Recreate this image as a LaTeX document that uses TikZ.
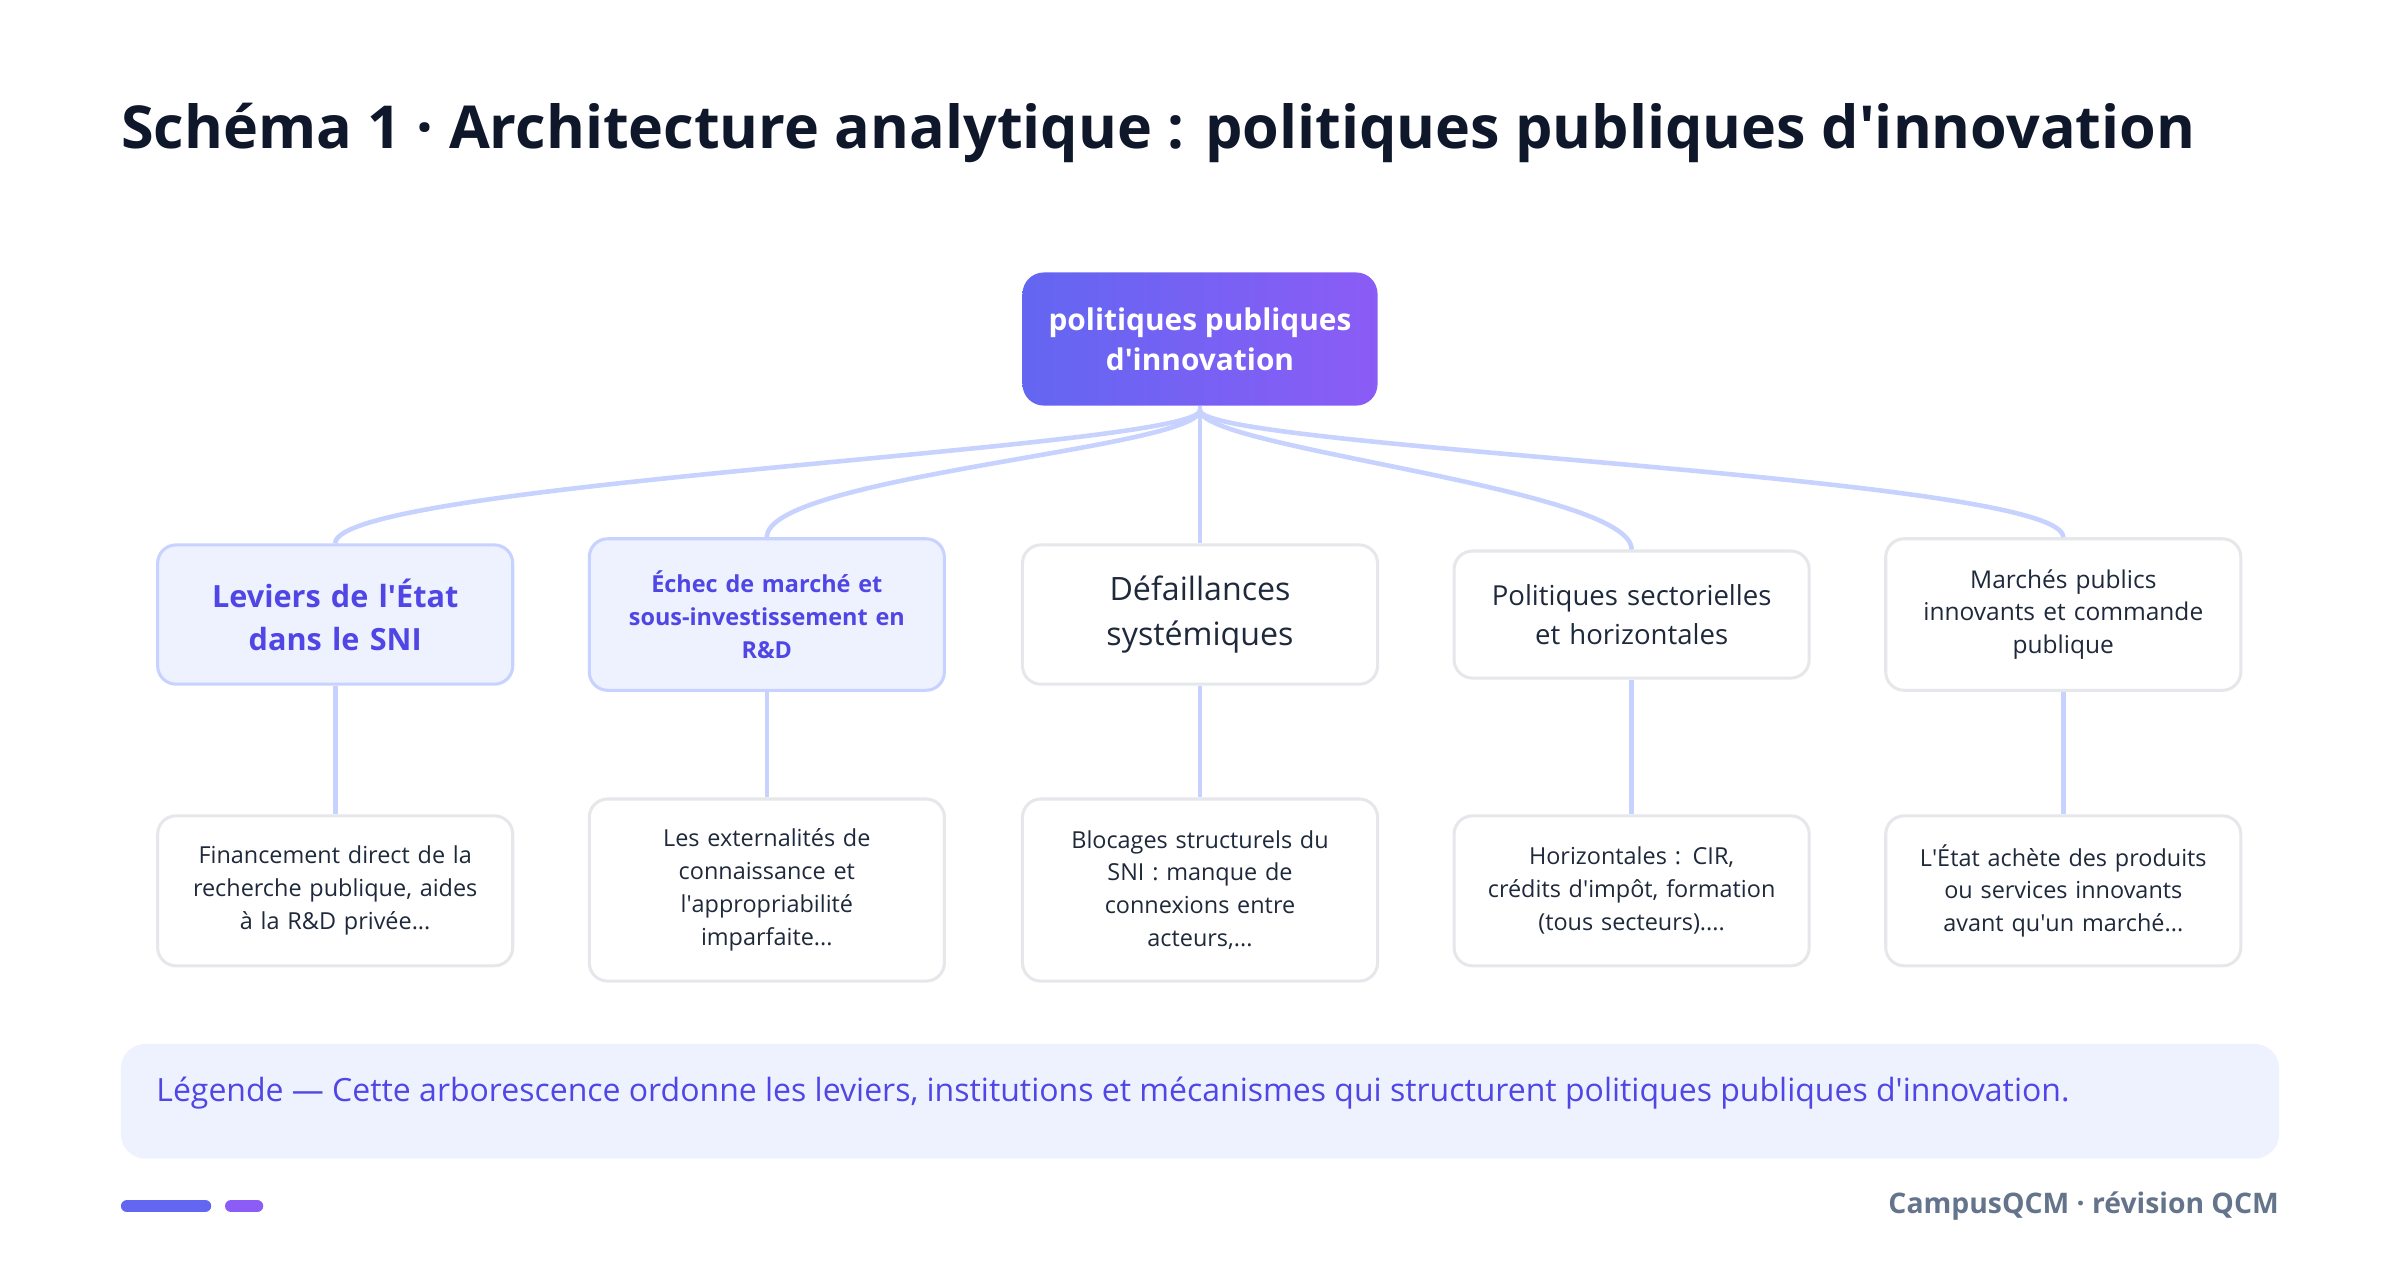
\documentclass[tikz,border=0pt]{standalone}
\usepackage{fontspec}
\setmainfont{Open Sans}
\newcommand\ap{\textquotesingle}
\usetikzlibrary{shadings,calc}
\definecolor{ind}{HTML}{6366F1}
\definecolor{pur}{HTML}{8B5CF6}
\definecolor{indt}{HTML}{4F46E5}
\definecolor{lfill}{HTML}{EEF2FF}
\definecolor{lbord}{HTML}{C7D2FE}
\definecolor{gbord}{HTML}{E5E7EB}
\definecolor{dark}{HTML}{0F172A}
\definecolor{txt}{HTML}{1E293B}
\definecolor{foot}{HTML}{64748B}
\tikzset{
 box/.style={draw=gbord,line width=2pt,rounded corners=12pt,fill=white,minimum width=232pt,align=center,text=txt},
 hl/.style={box,draw=lbord,fill=lfill,text=indt},
 lvlone/.style={font=\fontsize{20}{27}\selectfont,text width=215pt},
 lvltwo/.style={font=\fontsize{15.3}{21.5}\selectfont,text width=210pt},
 conn/.style={draw=lbord,line width=3pt},
}
\begin{document}
\begin{tikzpicture}[x=1pt,y=-1pt]
\useasboundingbox (0,0) rectangle (1568,828.5);
\node[anchor=base west,text=dark,font=\fontsize{38.7}{44}\selectfont\bfseries,inner sep=0] (title) at (79,97) {Schéma 1 · Architecture analytique : politiques publiques d\ap innovation};
% root
\node[rounded corners=14pt,left color=ind,right color=pur,minimum width=232pt,minimum height=87pt,text=white,align=center,font=\fontsize{19.5}{26}\selectfont\bfseries] (root) at (784,221.5) {politiques publiques\\d\ap innovation};
% level 1
\node[hl,lvlone,minimum height=91pt,font=\fontsize{20}{28}\selectfont\bfseries] (a1) at (219,401.5) {Leviers de l\ap État\\dans le SNI};
\node[hl,minimum height=99pt,text width=215pt,font=\fontsize{15.3}{21.5}\selectfont\bfseries] (b1) at (501,401.5) {Échec de marché et\\sous-investissement en\\R\&D};
\node[box,lvlone,minimum height=91pt,font=\fontsize{21}{29}\selectfont] (c1) at (784,401.5) {Défaillances\\systémiques};
\node[box,lvlone,minimum height=83pt,font=\fontsize{18}{25}\selectfont] (d1) at (1066,401.5) {Politiques sectorielles\\et horizontales};
\node[box,lvltwo,minimum height=99pt,font=\fontsize{16}{21.5}\selectfont] (e1) at (1348,401.5) {Marchés publics\\innovants et commande\\publique};
% level 2
\node[box,lvltwo,minimum height=98pt] (a2) at (219,582) {Financement direct de la\\recherche publique, aides\\à la R\&D privée...};
\node[box,lvltwo,minimum height=119pt] (b2) at (501,581.5) {Les externalités de\\connaissance et\\l\ap appropriabilité\\imparfaite...};
\node[box,lvltwo,minimum height=119pt] (c2) at (784,581.5) {Blocages structurels du\\SNI : manque de\\connexions entre\\acteurs,...};
\node[box,lvltwo,minimum height=98pt] (d2) at (1066,582) {Horizontales : CIR,\\crédits d\ap impôt, formation\\(tous secteurs)....};
\node[box,lvltwo,minimum height=98pt] (e2) at (1348,582) {L\ap État achète des produits\\ou services innovants\\avant qu\ap un marché...};
% connectors
\coordinate (r) at (784,268);
\foreach \n in {a1,b1,d1,e1}{
 \path[conn] (r) .. controls ($(r)+(0,25)$) and ($(\n.north)+(0,-40)$) .. (\n.north);
}
\path[conn] (root.south) -- (c1.north);
\foreach \n in {a,b,c,d,e}{\path[conn] (\n1.south) -- (\n2.north);}
% legend
\node[fill=lfill,rounded corners=16pt,minimum width=1410pt,minimum height=75pt,inner sep=0] (leg) at (784,719.5) {};
\node[anchor=west,text=indt,font=\fontsize{20.9}{24}\selectfont,inner sep=0] (legt) at (102,714) {Légende — Cette arborescence ordonne les leviers, institutions et mécanismes qui structurent politiques publiques d\ap innovation.};
% footer
\draw[ind,line width=8pt,line cap=round] (83,788) -- (134,788);
\draw[pur,line width=8pt,line cap=round] (151,788) -- (168,788);
\node[anchor=east,text=foot,font=\fontsize{18.5}{22}\selectfont\bfseries,inner sep=0] (ft) at (1489,788) {CampusQCM · révision QCM};
\end{tikzpicture}
\end{document}
